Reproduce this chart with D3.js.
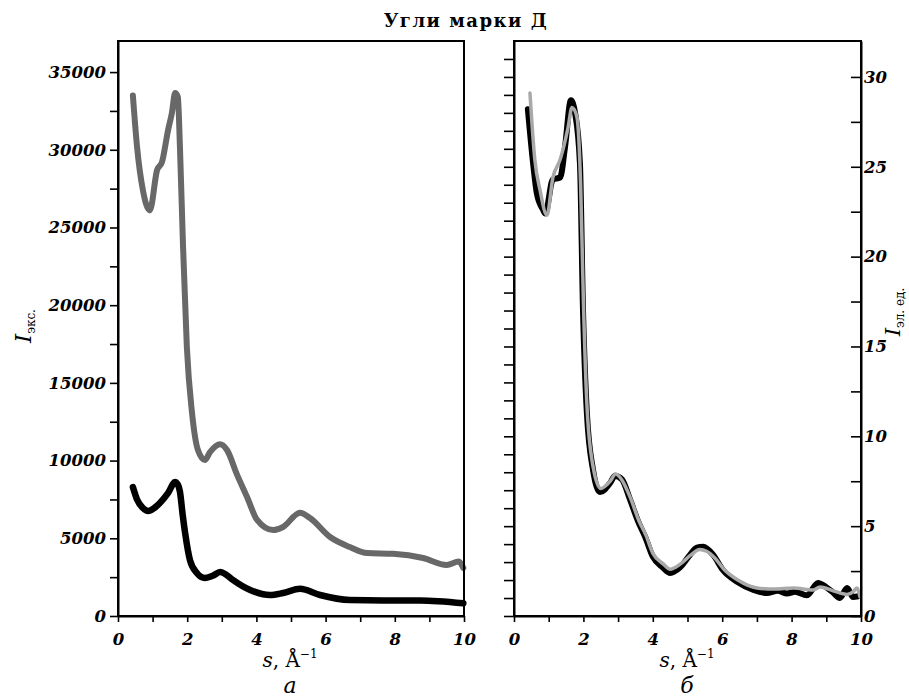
<!DOCTYPE html>
<html>
<head>
<meta charset="utf-8">
<script src="https://cdn.jsdelivr.net/npm/d3@7"></script>
<style>
  body { margin: 0; background: #fff; }
  svg { display: block; }
  .tick text { font-family: "DejaVu Serif", serif; font-style: italic; font-weight: bold; font-size: 16.5px; fill: #000; }
</style>
</head>
<body>
<div id="chart"></div>
<script>
// --- data ---
// panel а: raw intensity (экс.)
const greyLeftS = [0.43, 0.55, 0.72, 0.92, 1.13, 1.27, 1.45, 1.56, 1.65, 1.73, 1.79, 1.88, 1.99, 2.14, 2.31, 2.51, 2.66, 2.95, 3.15, 3.44, 3.73, 4.02, 4.48, 4.77, 5.26, 5.55, 6.13, 6.7, 7.2, 7.95, 8.82, 9.5, 9.85, 9.98];
const greyLeftI = [33500, 30200, 27400, 26100, 28700, 29200, 31300, 32400, 33650, 33400, 30200, 23750, 17300, 13060, 10680, 10040, 10550, 11050, 10680, 9100, 7660, 6180, 5530, 5730, 6650, 6300, 5080, 4440, 4050, 4000, 3730, 3280, 3500, 3100];
const blackLeftS = [0.43, 0.55, 0.72, 0.87, 1.05, 1.21, 1.45, 1.65, 1.72, 1.79, 1.87, 1.94, 2.08, 2.28, 2.51, 2.75, 2.95, 3.1, 3.32, 3.82, 4.39, 4.77, 5.26, 5.84, 6.7, 7.66, 8.73, 9.98];
const blackLeftI = [8300, 7500, 6950, 6750, 6950, 7270, 7920, 8620, 8500, 8000, 6500, 5340, 3600, 2770, 2450, 2600, 2830, 2700, 2320, 1670, 1350, 1480, 1750, 1350, 1030, 1000, 1000, 820];

// panel б: intensity in electron units
const blackRightS = [0.40, 0.55, 0.66, 0.84, 0.9, 1.12, 1.33, 1.47, 1.64, 1.76, 1.90, 1.99, 2.10, 2.28, 2.48, 2.77, 2.91, 3.11, 3.34, 3.57, 3.78, 4.00, 4.29, 4.50, 4.78, 5.07, 5.27, 5.45, 5.74, 6.02, 6.43, 6.9, 7.29, 7.6, 7.87, 8.1, 8.44, 8.76, 9.0, 9.2, 9.39, 9.6, 9.77, 9.92];
const blackRightI = [28.2, 25.2, 23.5, 22.6, 22.4, 24.3, 24.4, 26.1, 28.7, 28.0, 25.2, 16.9, 11.3, 8.1, 6.9, 7.4, 7.8, 7.6, 6.5, 5.3, 4.4, 3.3, 2.7, 2.4, 2.7, 3.4, 3.8, 3.85, 3.4, 2.56, 1.9, 1.45, 1.28, 1.4, 1.25, 1.35, 1.15, 1.84, 1.6, 1.3, 1.0, 1.56, 1.06, 1.1];
const greyRightS = [0.46, 0.6, 0.75, 0.95, 1.12, 1.33, 1.56, 1.67, 1.81, 1.92, 2.0, 2.1, 2.28, 2.5, 2.77, 2.93, 3.1, 3.35, 3.6, 3.8, 4.0, 4.3, 4.5, 4.8, 5.1, 5.35, 5.55, 5.8, 6.05, 6.45, 7.0, 7.5, 8.05, 8.62, 8.82, 9.2, 9.6, 9.77, 9.88, 9.97];
const greyRightI = [29.1, 25.4, 23.7, 22.3, 24.4, 25.4, 27.2, 28.3, 27.8, 24.0, 17.5, 11.8, 8.3, 7.1, 7.5, 7.9, 7.6, 6.6, 5.3, 4.5, 3.5, 2.9, 2.6, 2.9, 3.4, 3.7, 3.6, 3.2, 2.6, 2.0, 1.56, 1.5, 1.56, 1.45, 1.62, 1.4, 1.2, 1.34, 1.56, 1.06];

const sTicksMajor = [0, 2, 4, 6, 8, 10];
const leftYTicksMajor = [0, 5000, 10000, 15000, 20000, 25000, 30000, 35000];
const rightYTicksMajor = [0, 5, 10, 15, 20, 25, 30];

const W = 909, H = 697;
const yTop = 41, yBottom = 616;
const panelA = { x0: 118, x1: 464 };
const panelB = { x0: 514, x1: 861 };
const serif = '"DejaVu Serif", serif';

const svg = d3.select('#chart').append('svg')
  .attr('width', W).attr('height', H);

const zip = (xs, ys) => xs.map((x, i) => ({ x, y: ys[i] }));

// scales
const xL = d3.scaleLinear().domain([0, 10]).range([panelA.x0, panelA.x1]);
const xR = d3.scaleLinear().domain([0, 10]).range([panelB.x0, panelB.x1]);
const yL = d3.scaleLinear().domain([0, 37000]).range([yBottom, yTop]);
const yR = d3.scaleLinear().domain([0, 32]).range([yBottom, yTop]);

function styleAxis(g, width) {
  g.select('.domain').attr('stroke', '#000').attr('stroke-width', 2);
  g.selectAll('.tick line').attr('stroke', '#000').attr('stroke-width', width || 1.6);
}

function xAxis(x) {
  const g = svg.append('g').attr('transform', `translate(0,${yBottom})`)
    .call(d3.axisBottom(x).tickValues(d3.range(0, 11, 1)).tickSize(6).tickSizeOuter(0).tickPadding(8)
      .tickFormat(d => sTicksMajor.includes(d) ? d : ''));
  styleAxis(g);
  g.selectAll('.tick text').attr('dy', '0.9em');
}

// frames
function frame(p) {
  svg.append('rect')
    .attr('x', p.x0).attr('y', yTop)
    .attr('width', p.x1 - p.x0).attr('height', yBottom - yTop)
    .attr('fill', 'none').attr('stroke', '#000').attr('stroke-width', 2);
}

const curve = d3.curveMonotoneX;

// ---- panel а ----
const yAxisL = svg.append('g').attr('transform', `translate(${panelA.x0},0)`)
  .call(d3.axisLeft(yL).tickValues(d3.range(0, 37000, 2500)).tickSize(8).tickSizeOuter(0).tickPadding(4)
    .tickFormat(d => leftYTicksMajor.includes(d) ? d : ''));
styleAxis(yAxisL);
xAxis(xL);

const lineL = d3.line().x(d => xL(d.x)).y(d => yL(d.y)).curve(curve);
svg.append('path').datum(zip(greyLeftS, greyLeftI))
  .attr('d', lineL).attr('fill', 'none').attr('stroke', '#686868')
  .attr('stroke-width', 6).attr('stroke-linejoin', 'round').attr('stroke-linecap', 'round');
svg.append('path').datum(zip(blackLeftS, blackLeftI))
  .attr('d', lineL).attr('fill', 'none').attr('stroke', '#000')
  .attr('stroke-width', 6.5).attr('stroke-linejoin', 'round').attr('stroke-linecap', 'round');
frame(panelA);

// ---- panel б ----
const yAxisRL = svg.append('g').attr('transform', `translate(${panelB.x0},0)`)
  .call(d3.axisLeft(yR).tickValues(d3.range(0, 32, 1)).tickSize(10).tickSizeOuter(0).tickFormat(''));
styleAxis(yAxisRL);
const yAxisRR = svg.append('g').attr('transform', `translate(${panelB.x1},0)`)
  .call(d3.axisRight(yR).tickValues(d3.range(0, 32, 2.5)).tickSize(-10).tickSizeOuter(0).tickPadding(3)
    .tickFormat(d => rightYTicksMajor.includes(d) ? d : ''));
styleAxis(yAxisRR);
xAxis(xR);

const lineR = d3.line().x(d => xR(d.x)).y(d => yR(d.y)).curve(curve);
svg.append('path').datum(zip(blackRightS, blackRightI))
  .attr('d', lineR).attr('fill', 'none').attr('stroke', '#000')
  .attr('stroke-width', 6).attr('stroke-linejoin', 'round').attr('stroke-linecap', 'round');
svg.append('path').datum(zip(greyRightS, greyRightI))
  .attr('d', lineR).attr('fill', 'none').attr('stroke', '#a9a9a9')
  .attr('stroke-width', 3.5).attr('stroke-linejoin', 'round').attr('stroke-linecap', 'round');
frame(panelB);

// ---- texts ----
svg.append('text').attr('x', 466).attr('y', 27).attr('text-anchor', 'middle')
  .attr('font-family', serif).attr('font-weight', 'bold').attr('font-size', 18)
  .attr('letter-spacing', 1.5)
  .text('Угли марки Д');

function sLabel(cx) {
  const t = svg.append('text').attr('x', cx).attr('y', 667).attr('text-anchor', 'middle')
    .attr('font-family', serif).attr('font-size', 20);
  t.append('tspan').attr('font-style', 'italic').text('s');
  t.append('tspan').text(', Å');
  t.append('tspan').attr('font-size', 12).attr('dy', -9).text('−1');
}
sLabel(290);
sLabel(687);

svg.append('text').attr('x', 290).attr('y', 693).attr('text-anchor', 'middle')
  .attr('font-family', serif).attr('font-style', 'italic').attr('font-size', 22).text('а');
svg.append('text').attr('x', 687).attr('y', 693).attr('text-anchor', 'middle')
  .attr('font-family', serif).attr('font-style', 'italic').attr('font-size', 22).text('б');

function yLabel(x, y, sub, size) {
  const t = svg.append('text').attr('transform', `translate(${x},${y}) rotate(-90)`)
    .attr('text-anchor', 'middle').attr('font-family', serif);
  t.append('tspan').attr('font-style', 'italic').attr('font-size', size).text('I');
  t.append('tspan').attr('font-size', 12).attr('dy', 4).text(sub);
}
yLabel(31, 326, 'экс.', 23);
yLabel(900, 312, 'эл. ед.', 21);
</script>
</body>
</html>
